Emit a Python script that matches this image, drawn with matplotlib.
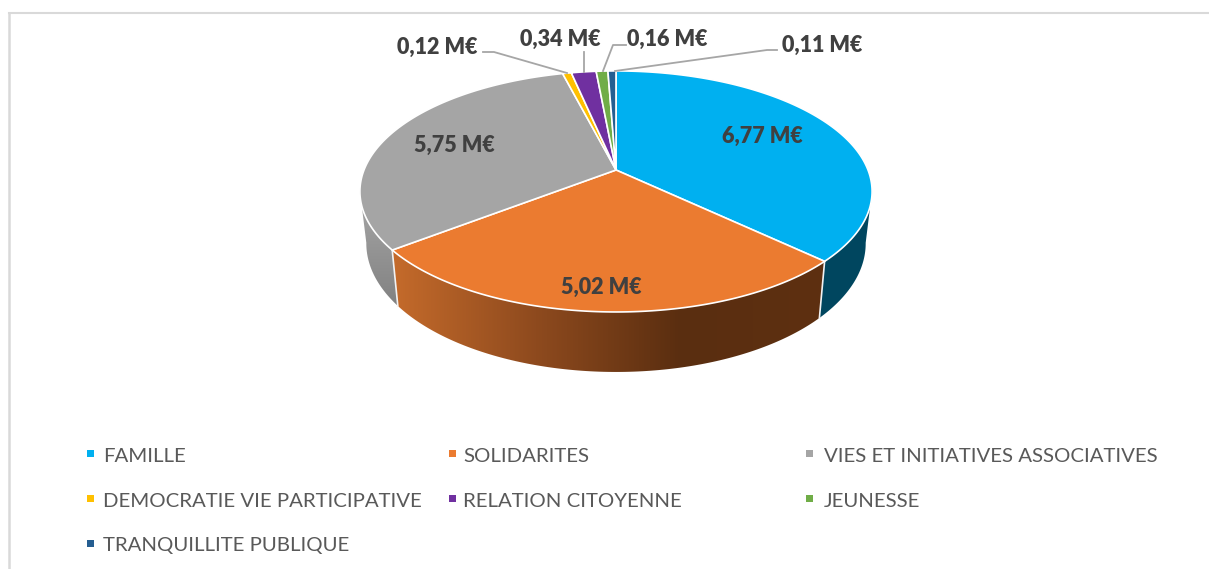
import numpy as np
import matplotlib
matplotlib.use('Agg')
import matplotlib.pyplot as plt
from matplotlib.colors import LinearSegmentedColormap
from matplotlib.patches import Polygon, Rectangle

categories = ['FAMILLE', 'SOLIDARITES', 'VIES ET INITIATIVES ASSOCIATIVES',
              'DEMOCRATIE VIE PARTICIPATIVE', 'RELATION CITOYENNE', 'JEUNESSE',
              'TRANQUILLITE PUBLIQUE']
values = [6.77, 5.02, 5.75, 0.12, 0.34, 0.16, 0.11]
value_labels = ['6,77 M€', '5,02 M€', '5,75 M€', '0,12 M€', '0,34 M€', '0,16 M€', '0,11 M€']
colors = ['#00B0F0', '#EB7B30', '#A5A5A5', '#FFC000', '#7030A0', '#70AD47', '#255E91']

plt.rcParams['font.family'] = ['Lato', 'DejaVu Sans']

fig = plt.figure(figsize=(12.09, 5.69), dpi=100)
ax = fig.add_axes([0, 0, 1, 1])
ax.set_xlim(0, 1209)
ax.set_ylim(569, 0)
ax.axis('off')

CX = 616
P = 0.178


# projection du disque en perspective (angle en degres, sens horaire depuis le haut)
def project(theta, y0, k, rx):
    t = np.radians(theta)
    u, v = np.sin(t), np.cos(t)
    d = 1 + P * v
    return np.column_stack([CX + rx * u / d, y0 - k * v / d])


def top(theta):
    return project(theta, 170, 116.7, 252)


def bottom(theta):
    return project(theta, 220.5, 124.5, 245.7)


def side_poly(a, b):
    th = np.linspace(a, b, 120)
    return np.vstack([top(th), bottom(th[::-1])])


angles = np.concatenate([[0], np.cumsum(values) / np.sum(values) * 360])

# cadre
ax.plot([9, 9], [569, 12.5], color='#D9D9D9', lw=1.8)
ax.plot([9, 1209], [12.5, 12.5], color='#D9D9D9', lw=1.5)

# flancs
side_blue = Polygon(side_poly(100, angles[1]), fc='#00465F', ec='none', zorder=2)
ax.add_patch(side_blue)

cmap_orange = LinearSegmentedColormap.from_list('o', ['#C56B2B', '#8E4A1E', '#5A2E10', '#5E3011'])
p = Polygon(side_poly(angles[1], angles[2]), fc='none', ec='none', zorder=2)
ax.add_patch(p)
im = ax.imshow(np.linspace(0, 1, 256)[None, :], cmap=cmap_orange, extent=[391, 826, 380, 240],
               aspect='auto', zorder=2)
im.set_clip_path(p)

cmap_gray = LinearSegmentedColormap.from_list('g', ['#A8A8A8', '#808080'])
p2 = Polygon(side_poly(angles[2], 260), fc='none', ec='none', zorder=2)
ax.add_patch(p2)
im2 = ax.imshow(np.linspace(0, 1, 256)[:, None], cmap=cmap_gray, extent=[355, 400, 310, 190],
                aspect='auto', zorder=2)
im2.set_clip_path(p2)
ax.set_xlim(0, 1209)
ax.set_ylim(569, 0)

# aretes blanches des flancs
for a in angles[1:3]:
    ax.plot([top(a)[0, 0], bottom(a)[0, 0]], [top(a)[0, 1], bottom(a)[0, 1]],
            color='#F2F2F2', lw=1.2, zorder=3)

# dessus du camembert
for i, c in enumerate(colors):
    th = np.linspace(angles[i], angles[i + 1], 150)
    pts = np.vstack([[[CX, 170]], top(th)])
    ax.add_patch(Polygon(pts, fc=c, ec='white', lw=1.2, joinstyle='round', zorder=4))

# etiquettes dans les parts
label_pos = [(762, 136), (601, 287), (454, 145), (437, 47), (560, 39), (667, 39), (822, 45)]
for txt, (x, y) in zip(value_labels, label_pos):
    ax.text(x, y, txt, fontsize=15.5, fontweight='heavy', color='#404040',
            ha='center', va='center', zorder=6)

# traits de rappel
leaders = [[(483, 52), (494, 52), (567, 73)],
           [(584, 52), (584, 72)],
           [(626, 45), (613, 45), (603, 71)],
           [(777, 50), (767, 50), (615, 71)]]
for seg in leaders:
    xs, ys = zip(*seg)
    ax.plot(xs, ys, color='#A6A6A6', lw=1.3, zorder=5)

# legende
key_x = [87, 449, 806, 87, 449, 806, 87]
text_x = [103, 463, 824, 103, 463, 824, 103]
row_y = [456, 456, 456, 501, 501, 501, 546]
for name, c, kx, tx, y in zip(categories, colors, key_x, text_x, row_y):
    ax.add_patch(Rectangle((kx, y - 6), 7, 7, fc=c, ec='none'))
    ax.text(tx, y, name, fontsize=14.7, color='#595959', ha='left', va='center')

fig.savefig('out.png', dpi=100)
